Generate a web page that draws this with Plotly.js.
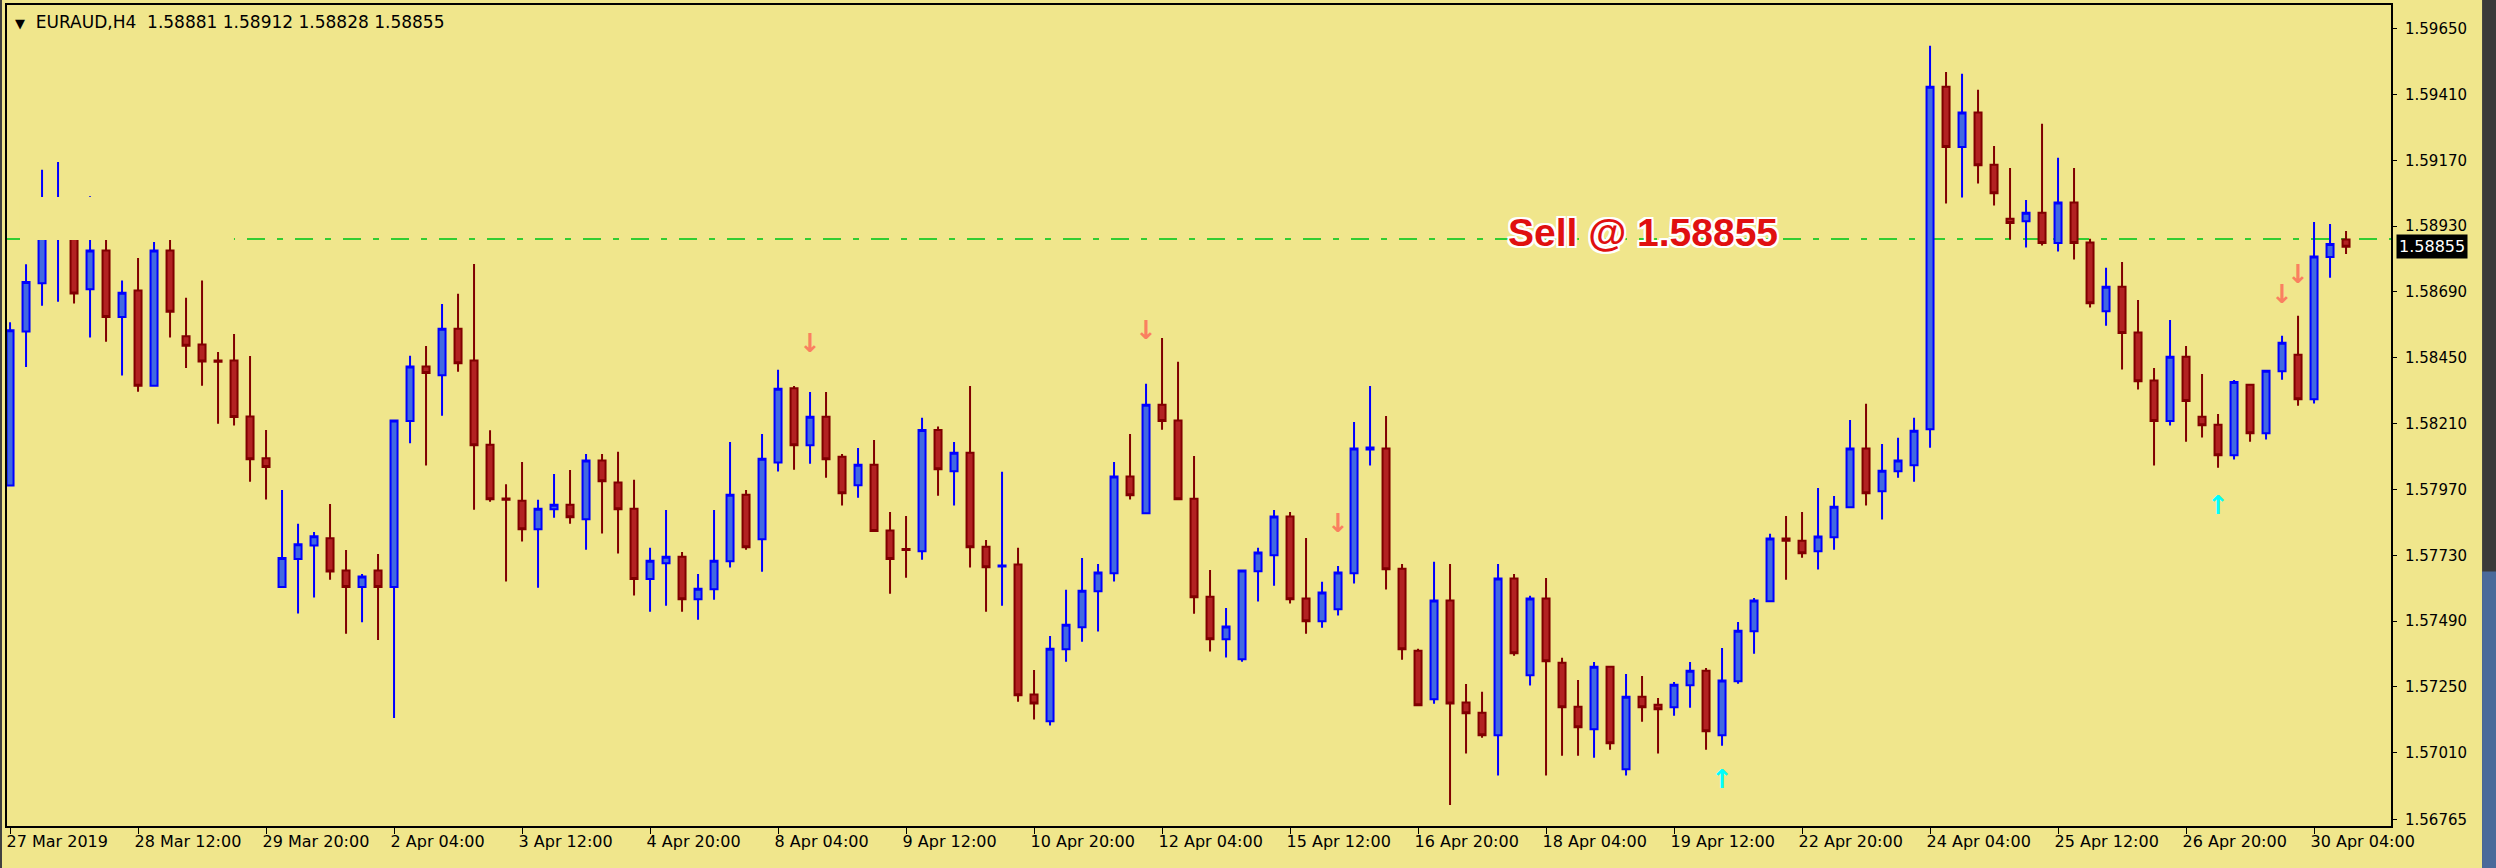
<!DOCTYPE html>
<html>
<head>
<meta charset="utf-8">
<script src="https://cdn.plot.ly/plotly-3.0.1.min.js"></script>
<style>
  html, body { margin: 0; padding: 0; background: #F0E68C; }
  #chart { width: 2496px; height: 868px; }
</style>
</head>
<body>
<div id="chart"></div>
<script>
// ---- DATA (EURAUD, H4) ----
const symbol = "EURAUD,H4";
const opens = [
1.57984,1.58546,1.58722,1.58894,1.58985,1.58700,1.58841,1.58599,1.58695,1.58348,
1.58841,1.58528,1.58498,1.58440,1.58440,1.58236,1.58084,1.57614,1.57716,1.57766,
1.57792,1.57674,1.57614,1.57674,1.57614,1.58219,1.58418,1.58386,1.58556,1.58440,
1.58133,1.57937,1.57929,1.57825,1.57898,1.57914,1.57861,1.58075,1.57995,1.57900,
1.57643,1.57701,1.57725,1.57570,1.57606,1.57708,1.57951,1.57788,1.58068,1.58339,
1.58131,1.58235,1.58089,1.57985,1.58060,1.57820,1.57753,1.57745,1.58187,1.58036,
1.58104,1.57761,1.57689,1.57696,1.57222,1.57125,1.57387,1.57468,1.57599,1.57664,
1.58017,1.57883,1.58279,1.58221,1.57936,1.57579,1.57424,1.57351,1.57672,1.57730,
1.57871,1.57572,1.57489,1.57533,1.57664,1.58116,1.58119,1.57681,1.57382,1.57205,
1.57565,1.57193,1.57156,1.57074,1.57645,1.57293,1.57572,1.57338,1.57178,1.57096,
1.57324,1.56950,1.57214,1.57185,1.57176,1.57256,1.57309,1.57074,1.57271,1.57453,
1.57562,1.57791,1.57783,1.57745,1.57796,1.57905,1.58119,1.57963,1.58036,1.58058,
1.58189,1.59438,1.59218,1.59344,1.59154,1.58957,1.58948,1.58979,1.58868,1.59016,
1.58870,1.58620,1.58709,1.58542,1.58367,1.58219,1.58454,1.58235,1.58206,1.58095,
1.58352,1.58175,1.58401,1.58461,1.58299,1.58817,1.58881];
const highs = [
1.58579,1.58791,1.59135,1.59164,1.59020,1.59039,1.58934,1.58732,1.58814,1.58872,
1.58887,1.58669,1.58732,1.58471,1.58537,1.58456,1.58187,1.57968,1.57845,1.57815,
1.57917,1.57749,1.57662,1.57735,1.58221,1.58457,1.58493,1.58646,1.58683,1.58792,
1.58186,1.57989,1.58070,1.57932,1.58026,1.58041,1.58099,1.58099,1.58107,1.58005,
1.57757,1.57895,1.57742,1.57662,1.57895,1.58143,1.57968,1.58172,1.58406,1.58347,
1.58325,1.58325,1.58099,1.58121,1.58150,1.57888,1.57873,1.58231,1.58199,1.58143,
1.58347,1.57786,1.58034,1.57757,1.57312,1.57436,1.57604,1.57720,1.57698,1.58070,
1.58172,1.58355,1.58522,1.58435,1.58092,1.57676,1.57538,1.57674,1.57757,1.57895,
1.57888,1.57793,1.57633,1.57691,1.58216,1.58347,1.58238,1.57698,1.57389,1.57706,
1.57698,1.57261,1.57232,1.57698,1.57662,1.57582,1.57647,1.57356,1.57275,1.57341,
1.57324,1.57297,1.57290,1.57210,1.57268,1.57341,1.57319,1.57392,1.57487,1.57574,
1.57808,1.57873,1.57888,1.57975,1.57946,1.58223,1.58282,1.58136,1.58158,1.58231,
1.59587,1.59492,1.59485,1.59427,1.59222,1.59142,1.59025,1.59303,1.59179,1.59142,
1.58884,1.58778,1.58799,1.58661,1.58413,1.58588,1.58493,1.58391,1.58245,1.58369,
1.58352,1.58403,1.58530,1.58603,1.58945,1.58938,1.58912];
const lows = [
1.57982,1.58416,1.58640,1.58654,1.58648,1.58524,1.58508,1.58385,1.58326,1.58344,
1.58524,1.58413,1.58348,1.58209,1.58203,1.57998,1.57933,1.57613,1.57518,1.57576,
1.57641,1.57444,1.57486,1.57421,1.57137,1.58138,1.58057,1.58239,1.58399,1.57896,
1.57925,1.57634,1.57780,1.57612,1.57867,1.57845,1.57750,1.57809,1.57736,1.57583,
1.57524,1.57546,1.57524,1.57495,1.57568,1.57685,1.57750,1.57670,1.58035,1.58042,
1.58064,1.58013,1.57911,1.57940,1.57815,1.57590,1.57648,1.57714,1.57947,1.57911,
1.57685,1.57524,1.57546,1.57196,1.57131,1.57109,1.57342,1.57415,1.57452,1.57634,
1.57933,1.57882,1.58188,1.57932,1.57517,1.57379,1.57357,1.57342,1.57561,1.57619,
1.57554,1.57444,1.57466,1.57510,1.57627,1.58057,1.57605,1.57349,1.57181,1.57189,
1.56820,1.57007,1.57065,1.56927,1.57364,1.57255,1.56927,1.56999,1.56999,1.56992,
1.57021,1.56927,1.57123,1.57007,1.57145,1.57174,1.57021,1.57036,1.57262,1.57371,
1.57561,1.57641,1.57721,1.57678,1.57750,1.57904,1.57911,1.57860,1.58013,1.57998,
1.58122,1.59012,1.59034,1.59085,1.59005,1.58881,1.58852,1.58859,1.58837,1.58808,
1.58633,1.58567,1.58407,1.58334,1.58057,1.58203,1.58144,1.58159,1.58049,1.58079,
1.58144,1.58152,1.58370,1.58275,1.58283,1.58742,1.58828];
const closes = [
1.58550,1.58726,1.59007,1.58989,1.58684,1.58841,1.58599,1.58687,1.58348,1.58841,
1.58618,1.58494,1.58436,1.58435,1.58234,1.58080,1.58052,1.57720,1.57770,1.57799,
1.57671,1.57614,1.57653,1.57614,1.58221,1.58418,1.58394,1.58556,1.58430,1.58131,
1.57934,1.57932,1.57825,1.57900,1.57914,1.57869,1.58075,1.58000,1.57898,1.57643,
1.57710,1.57725,1.57570,1.57608,1.57710,1.57951,1.57759,1.58082,1.58337,1.58131,
1.58235,1.58080,1.57956,1.58060,1.57818,1.57716,1.57749,1.58187,1.58044,1.58104,
1.57759,1.57686,1.57693,1.57220,1.57190,1.57389,1.57477,1.57601,1.57667,1.58017,
1.57949,1.58279,1.58219,1.57934,1.57577,1.57424,1.57470,1.57674,1.57740,1.57871,
1.57570,1.57489,1.57594,1.57667,1.58119,1.58123,1.57679,1.57387,1.57183,1.57565,
1.57190,1.57154,1.57074,1.57645,1.57373,1.57572,1.57344,1.57176,1.57103,1.57324,
1.57045,1.57214,1.57176,1.57169,1.57258,1.57309,1.57088,1.57273,1.57455,1.57565,
1.57791,1.57783,1.57737,1.57798,1.57907,1.58119,1.57956,1.58038,1.58075,1.58184,
1.59438,1.59218,1.59344,1.59152,1.59050,1.58941,1.58979,1.58868,1.59016,1.58868,
1.58649,1.58709,1.58540,1.58364,1.58219,1.58454,1.58292,1.58204,1.58095,1.58362,
1.58175,1.58403,1.58505,1.58299,1.58819,1.58865,1.58855];

// x-axis tick labels (one every 8 bars)
const timeTickBars = [0,8,16,24,32,40,48,56,64,72,80,88,96,104,112,120,128,136,144];
const timeTickLabels = ["27 Mar 2019","28 Mar 12:00","29 Mar 20:00","2 Apr 04:00","3 Apr 12:00",
  "4 Apr 20:00","8 Apr 04:00","9 Apr 12:00","10 Apr 20:00","12 Apr 04:00","15 Apr 12:00",
  "16 Apr 20:00","18 Apr 04:00","19 Apr 12:00","22 Apr 20:00","24 Apr 04:00","25 Apr 12:00",
  "26 Apr 20:00","30 Apr 04:00"];
// price axis ticks
const priceTicks = [1.56765,1.57010,1.57250,1.57490,1.57730,1.57970,1.58210,1.58450,1.58690,1.58930,1.59170,1.59410,1.59650];
const priceTickLabels = ["1.56765","1.57010","1.57250","1.57490","1.57730","1.57970","1.58210","1.58450","1.58690","1.58930","1.59170","1.59410","1.59650"];

// signal arrows
const sellSignalBars = [50,71,83,142,143];
const sellSignalPrices = [1.58493,1.58541,1.57837,1.58675,1.58748];
const buySignalBars = [107,138];
const buySignalPrices = [1.56904,1.57903];

// levels
const sellLevel = 1.58883;
const sellPrice = 1.58855;
const lastPrice = 1.58855;

// ---- CHART ----
const barIdx = opens.map((_, i) => i);
const bg = "#F0E68C";

const candles = {
  type: "candlestick",
  x: barIdx, open: opens, high: highs, low: lows, close: closes,
  increasing: { line: { color: "#0000FF", width: 2 }, fillcolor: "#4169E1" },
  decreasing: { line: { color: "#800000", width: 2 }, fillcolor: "#B22222" },
  whiskerwidth: 0,
  hoverinfo: "skip",
  showlegend: false
};
const sellArrows = {
  type: "scatter", mode: "text",
  x: sellSignalBars, y: sellSignalPrices,
  text: sellSignalBars.map(() => "↓"),
  textposition: "middle center",
  textfont: { family: "DejaVu Sans", size: 26, color: "#FA8060", weight: "bold" },
  hoverinfo: "skip", showlegend: false
};
const buyArrows = {
  type: "scatter", mode: "text",
  x: buySignalBars, y: buySignalPrices,
  text: buySignalBars.map(() => "↑"),
  textposition: "middle center",
  textfont: { family: "DejaVu Sans", size: 26, color: "#00FFFF", weight: "bold" },
  hoverinfo: "skip", showlegend: false
};

const outline = "2px 0 0 #fff, -2px 0 0 #fff, 0 2px 0 #fff, 0 -2px 0 #fff, 2px 2px 0 #fff, -2px -2px 0 #fff, 2px -2px 0 #fff, -2px 2px 0 #fff";

const layout = {
  width: 2496, height: 868,
  paper_bgcolor: bg, plot_bgcolor: bg,
  margin: { l: 7, r: 105, t: 5, b: 42, pad: 0 },
  showlegend: false,
  boxgap: 0.375, boxgroupgap: 0.3,
  xaxis: {
    range: [-0.19, 148.81], fixedrange: true,
    rangeslider: { visible: false },
    tickmode: "array", tickvals: timeTickBars, ticktext: timeTickLabels,
    ticks: "outside", ticklen: 6, tickwidth: 1, tickcolor: "#000",
    ticklabelposition: "outside right", ticklabelshift: -5,
    tickfont: { family: "DejaVu Sans", size: 16, color: "#000" },
    showgrid: false, zeroline: false,
    showline: true, mirror: true, linecolor: "#000", linewidth: 2
  },
  yaxis: {
    side: "right",
    range: [1.56743, 1.59736], fixedrange: true,
    tickmode: "array", tickvals: priceTicks, ticktext: priceTickLabels,
    ticks: "outside", ticklen: 4, tickwidth: 1, tickcolor: "#000",
    ticklabelstandoff: 5,
    tickfont: { family: "DejaVu Sans", size: 15, color: "#000" },
    showgrid: false, zeroline: false,
    showline: true, mirror: true, linecolor: "#000", linewidth: 2
  },
  shapes: [
    { type: "line", xref: "paper", x0: 0, x1: 1, yref: "y", y0: sellLevel, y1: sellLevel,
      line: { color: "#32CD32", width: 2, dash: "18px,12px,6px,12px" }, layer: "below" },
    // background-coloured object box at top-left
    { type: "rect", xref: "paper", yref: "paper", x0: 0.00545, x1: 0.0952, y0: 0.7138, y1: 0.7661,
      fillcolor: bg, line: { width: 0 }, layer: "above" },
    // window edges
    { type: "rect", xref: "paper", yref: "paper", x0: -0.0030, x1: -0.0021, y0: -0.06, y1: 1.01,
      fillcolor: "#404040", line: { width: 0 } },
    { type: "rect", xref: "paper", yref: "paper", x0: 1.0382, x1: 1.0445, y0: -0.06, y1: 1.01,
      fillcolor: "#3a3a3a", line: { width: 0 } },
    { type: "rect", xref: "paper", yref: "paper", x0: 1.0382, x1: 1.0445, y0: -0.06, y1: 0.31,
      fillcolor: "#4a6a9a", line: { width: 0 } }
  ],
  annotations: [
    { xref: "paper", yref: "paper", x: 0.0025, y: 0.9799, xanchor: "left", yanchor: "middle",
      text: '<span style="font-size:13px">▼</span>\u00a0\u00a0' + symbol + "\u00a0\u00a0" +
            [opens[146], highs[146], lows[146], closes[146]].map(v => v.toFixed(5)).join(" "),
      showarrow: false, font: { family: "DejaVu Sans", size: 17, color: "#000" } },
    { xref: "x", yref: "y", x: 102.06, y: 1.58908, xanchor: "center", yanchor: "middle",
      text: "Sell @ " + sellPrice.toFixed(5), showarrow: false,
      font: { family: "Liberation Sans", size: 39, color: "#E01010", weight: "bold", shadow: outline } },
    { xref: "paper", yref: "y", x: 1.0021, y: lastPrice, xanchor: "left", yanchor: "middle",
      text: lastPrice.toFixed(5), showarrow: false, bgcolor: "#000", borderpad: 2,
      font: { family: "DejaVu Sans", size: 16, color: "#fff" } }
  ]
};

Plotly.newPlot("chart", [candles, sellArrows, buyArrows], layout, { displayModeBar: false, staticPlot: true });
</script>
</body>
</html>
